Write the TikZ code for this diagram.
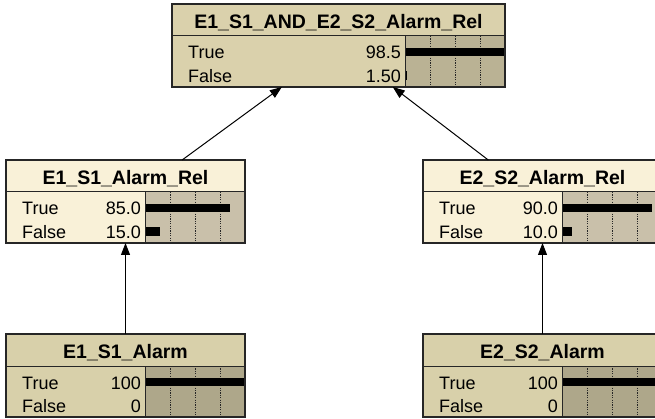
\documentclass[tikz,border=0pt]{standalone}
\usepackage{fontspec}
\setmainfont{Liberation Sans}
\usetikzlibrary{arrows.meta}

% colour schemes: <scheme>head for header and label column, <scheme>bar for the bar column
\definecolor{topnhead}{RGB}{218,209,172}
\definecolor{topnbar}{RGB}{186,178,148}
\definecolor{midnhead}{RGB}{249,241,216}
\definecolor{midnbar}{RGB}{201,192,170}
\definecolor{botnhead}{RGB}{216,208,170}
\definecolor{botnbar}{RGB}{174,167,138}

\tikzset{
  frame/.style={draw=black!85, line width=1.1pt, rectangle, inner sep=0pt, outer sep=0pt},
  rule/.style={draw=black!85, line width=1pt},
  gridline/.style={draw=black!85, line width=0.9pt, dash pattern=on 1.2pt off 1.2pt},
  belief/.style={fill=black},
  titletext/.style={font=\fontsize{19.5}{19.5}\selectfont\bfseries, inner sep=0pt, anchor=base},
  rowtext/.style={font=\fontsize{18}{18}\selectfont, inner sep=0pt},
  link/.style={draw=black, line width=1pt, -{Triangle[length=12pt,width=9pt]}},
}

% #1 name, #2 left, #3 top, #4 label column width, #5 colour scheme,
% #6 title, #7 True value, #8 False value, #9 True percentage
\newcommand{\beliefnode}[9]{%
  \node[frame, fill=#5head, minimum width={(#4+100)*1pt}, minimum height=83pt, anchor=north west] (#1) at (#2,#3) {};
  \fill[#5bar] (#2+#4,#3+32) rectangle (#2+#4+100,#3+83);
  \foreach \q in {25,50,75}
    \draw[gridline] (#2+#4+\q,#3+32) -- (#2+#4+\q,#3+83);
  \fill[belief] (#2+#4,#3+48-4.3) rectangle (#2+#4+#9,#3+48+4.3);
  \pgfmathparse{100-#9}%
  \ifdim\pgfmathresult pt>0.01pt
    \fill[belief] (#2+#4,#3+71.5-4.3) rectangle (#2+#4+100-#9,#3+71.5+4.3);
  \fi
  \draw[rule] (#2,#3+32) -- (#2+#4+100,#3+32);
  \draw[rule] (#2+#4,#3+32) -- (#2+#4,#3+83);
  \draw[frame] (#1.north west) rectangle (#1.south east);
  \node[titletext] (#1-title) at (#2+#4/2+50,#3+24.5) {#6};
  \node[rowtext, anchor=base west] (#1-true) at (#2+16,#3+55) {True};
  \node[rowtext, anchor=base west] (#1-false) at (#2+16,#3+78.5) {False};
  \node[rowtext, anchor=base east] (#1-tv) at (#2+#4-4,#3+55) {#7};
  \node[rowtext, anchor=base east] (#1-fv) at (#2+#4-4,#3+78.5) {#8};
}

\begin{document}
\begin{tikzpicture}[x=1pt,y=-1pt]
\useasboundingbox (0,0) rectangle (655,419);
\clip (0,0) rectangle (655,419);

\beliefnode{both}{172}{4}{233}{topn}{E1\_S1\_AND\_E2\_S2\_Alarm\_Rel}{98.5}{1.50}{98.5}
\beliefnode{relA}{6}{160}{139}{midn}{E1\_S1\_Alarm\_Rel}{85.0}{15.0}{85}
\beliefnode{relB}{423}{160}{139}{midn}{E2\_S2\_Alarm\_Rel}{90.0}{10.0}{90}
\beliefnode{alarmA}{6}{334}{139}{botn}{E1\_S1\_Alarm}{100}{0}{100}
\beliefnode{alarmB}{423}{334}{139}{botn}{E2\_S2\_Alarm}{100}{0}{100}

\draw[link] (relA) -- (both);
\draw[link] (relB) -- (both);
\draw[link] (alarmA) -- (relA);
\draw[link] (alarmB) -- (relB);
\end{tikzpicture}
\end{document}
